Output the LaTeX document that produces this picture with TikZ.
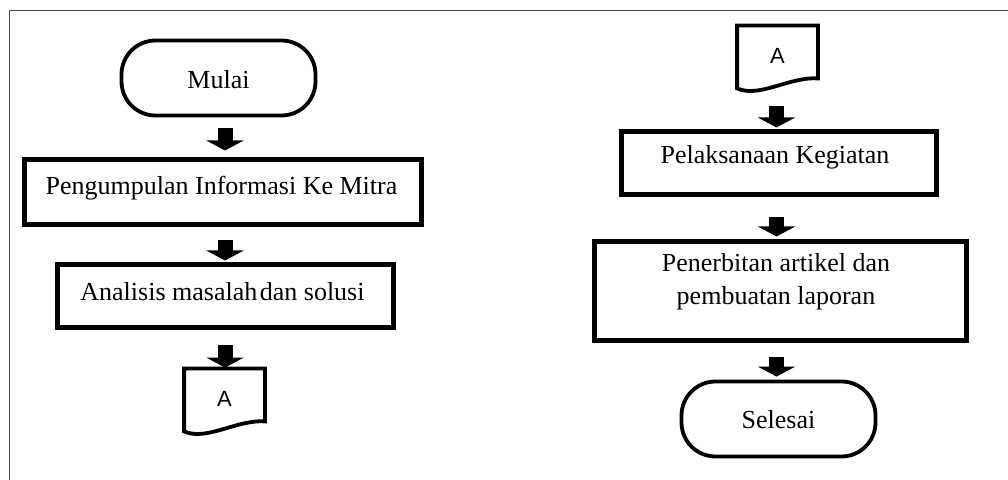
\documentclass[tikz,border=0pt]{standalone}
\usepackage{fontspec}
\setmainfont{Liberation Serif}
\newfontfamily\arialfont{Liberation Sans}
\usetikzlibrary{arrows.meta,calc}
\begin{document}
\begin{tikzpicture}[x=0.5pt,y=-0.5pt,
  terminal/.style={draw, line width=1.9pt, rounded corners=17pt, minimum width=97pt, minimum height=37.5pt, inner sep=0pt},
  procbox/.style={draw, line width=2.5pt, inner sep=0pt},
  txt/.style={inner sep=0pt, font=\fontsize{13}{16.5}\selectfont, align=center},
  conn/.style={inner sep=0pt, minimum width=40pt, minimum height=31pt, font=\arialfont\fontsize{11}{12}\selectfont},
  connline/.style={line width=1.9pt, line join=miter},
  barrow/.style={line width=7.5pt, -{Triangle[width=18.5pt,length=5pt]}},
  framecol/.style={draw=black!70, line width=0.8pt}
]
\useasboundingbox (0,0) rectangle (1008,480);
\draw[framecol] (9.5,480) -- (9.5,10.5) -- (1008,10.5);

\coordinate (colL) at (225,0);
\coordinate (colR) at (776.5,0);

% left column
\node[terminal] (mulai) at (218.5,78) {};
\node[txt] (tmulai) at (218.5,80) {Mulai};

\node[procbox, minimum width=198.5pt, minimum height=32.5pt] (b1) at (222.5,192.5) {};
\node[txt] (tb1) at (221.5,188) {Pengumpulan Informasi Ke Mitra};

\node[procbox, minimum width=168pt, minimum height=31.5pt] (b2) at (225,296.5) {};
\node[txt] (tb2) at (222.5,292) {Analisis masalah\hspace{-2pt} dan solusi};

\node[conn] (ca) at (224.5,400) {\raisebox{1.5pt}{A}};
\draw[connline] (ca.north west) -- (ca.north east) -- ([yshift=5pt]ca.south east)
  .. controls ([xshift=-14pt,yshift=6pt]ca.south east) and ([xshift=11pt,yshift=-5pt]ca.south west) .. (ca.south west) -- cycle;

% right column
\node[conn] (cb) at (777.5,57) {\raisebox{1.5pt}{A}};
\draw[connline] (cb.north west) -- (cb.north east) -- ([yshift=5pt]cb.south east)
  .. controls ([xshift=-14pt,yshift=6pt]cb.south east) and ([xshift=11pt,yshift=-5pt]cb.south west) .. (cb.south west) -- cycle;

\node[procbox, minimum width=157.5pt, minimum height=31.5pt] (b3) at (778.5,163.5) {};
\node[txt] (tb3) at (775,157) {Pelaksanaan Kegiatan};

\node[procbox, minimum width=186pt, minimum height=49.5pt] (b4) at (780,291.5) {};
\node[txt] (tb4) at (776,281.5) {Penerbitan artikel dan\\pembuatan laporan};

\node[terminal] (selesai) at (778.5,419) {};
\node[txt] (tselesai) at (778.5,420) {Selesai};

% arrows
\draw[barrow, shorten <=5.5pt, shorten >=3.5pt] (mulai.south -| colL) -- (b1.north -| colL);
\draw[barrow, shorten <=6.5pt, shorten >=1pt] (b1.south -| colL) -- (b2.north -| colL);
\draw[barrow, shorten <=7.5pt, shorten >=0.5pt] (b2.south -| colL) -- (ca.north -| colL);

\draw[barrow, shorten <=9pt, shorten >=1pt] (cb.south -| colR) -- (b3.north -| colR);
\draw[barrow, shorten <=10pt, shorten >=1.5pt] (b3.south -| colR) -- (b4.north -| colR);
\draw[barrow, shorten <=7pt, shorten >=1.5pt] (b4.south -| colR) -- (selesai.north -| colR);
\end{tikzpicture}
\end{document}
